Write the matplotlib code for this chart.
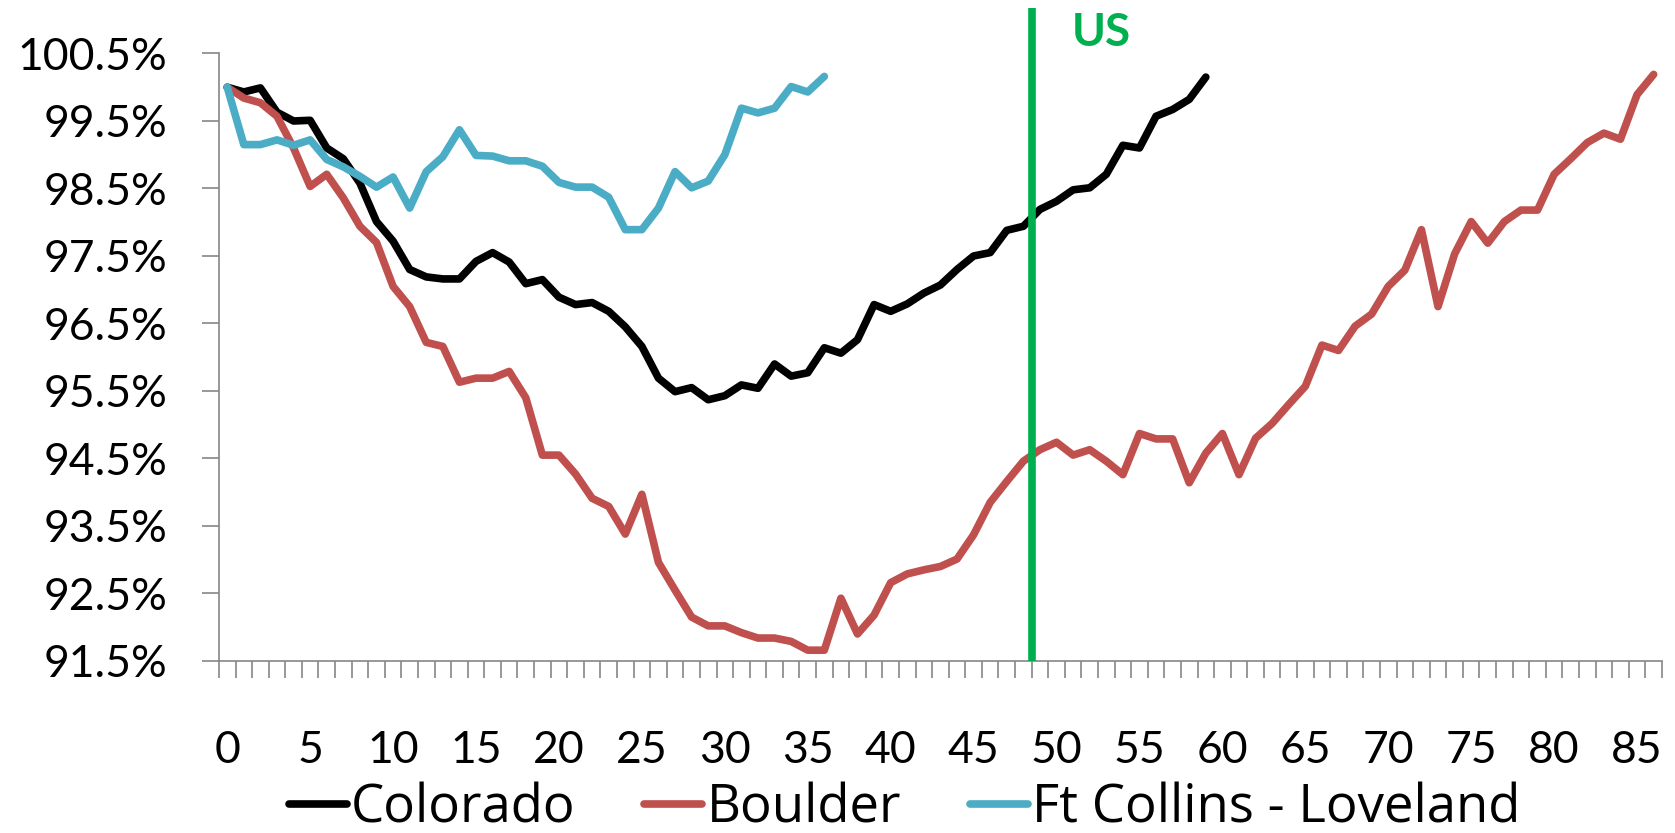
import matplotlib
matplotlib.use("Agg")
import matplotlib.pyplot as plt
from matplotlib.ticker import FixedLocator, FuncFormatter

plt.rcParams['font.family'] = ['Lato', 'DejaVu Sans']

# index values (start = 100%)
colorado = [100.0, 99.93, 99.99, 99.63, 99.50, 99.51, 99.10, 98.94, 98.58, 98.01,
            97.72, 97.30, 97.19, 97.16, 97.16, 97.42, 97.55, 97.41, 97.09, 97.15,
            96.89, 96.78, 96.81, 96.68, 96.45, 96.16, 95.69, 95.49, 95.55, 95.37,
            95.43, 95.59, 95.54, 95.90, 95.72, 95.77, 96.14, 96.06, 96.26, 96.78,
            96.68, 96.79, 96.95, 97.07, 97.30, 97.50, 97.55, 97.88, 97.94, 98.19,
            98.31, 98.48, 98.51, 98.71, 99.14, 99.10, 99.57, 99.67, 99.82, 100.15]

boulder = [100.0, 99.84, 99.77, 99.57, 99.10, 98.53, 98.71, 98.36, 97.94, 97.70,
           97.05, 96.75, 96.22, 96.16, 95.63, 95.69, 95.69, 95.79, 95.40, 94.55,
           94.55, 94.27, 93.91, 93.79, 93.38, 93.97, 92.96, 92.55, 92.15, 92.02,
           92.02, 91.92, 91.84, 91.84, 91.79, 91.66, 91.66, 92.43, 91.90, 92.18,
           92.66, 92.79, 92.85, 92.90, 93.01, 93.37, 93.85, 94.16, 94.46, 94.63,
           94.74, 94.55, 94.63, 94.46, 94.26, 94.87, 94.79, 94.79, 94.14, 94.58,
           94.87, 94.26, 94.80, 95.02, 95.30, 95.57, 96.18, 96.10, 96.46, 96.64,
           97.05, 97.29, 97.89, 96.75, 97.53, 98.01, 97.69, 98.01, 98.18, 98.18,
           98.71, 98.94, 99.18, 99.32, 99.23, 99.89, 100.19]

ft_collins = [100.0, 99.15, 99.15, 99.22, 99.14, 99.22, 98.93, 98.82, 98.68, 98.52,
              98.67, 98.21, 98.75, 98.97, 99.37, 98.99, 98.98, 98.91, 98.91, 98.83,
              98.59, 98.52, 98.52, 98.37, 97.89, 97.89, 98.21, 98.75, 98.51, 98.61,
              99.00, 99.69, 99.62, 99.69, 100.01, 99.93, 100.16]

us_mark = 48.5
y_ticks = [91.5, 92.5, 93.5, 94.5, 95.5, 96.5, 97.5, 98.5, 99.5, 100.5]
x_labels = list(range(0, 86, 5))
n_cat = len(boulder)

fig = plt.figure(figsize=(16.75, 8.33), dpi=100)
ax = fig.add_axes([0.1307, 0.2065, 0.8615, 0.7293])

lw = 5.5
ax.plot(range(len(colorado)), colorado, color='black', lw=lw,
        solid_joinstyle='round', solid_capstyle='round', label='Colorado', zorder=3)
ax.plot(range(len(boulder)), boulder, color='#C0504D', lw=lw,
        solid_joinstyle='round', solid_capstyle='round', label='Boulder', zorder=3)
ax.plot(range(len(ft_collins)), ft_collins, color='#4BACC6', lw=lw,
        solid_joinstyle='round', solid_capstyle='round', label='Ft Collins - Loveland', zorder=3)

# US reference line, pokes above the plot area
ax.plot([us_mark, us_mark], [91.5, 101.18], color='#00B050', lw=5.5,
        clip_on=False, zorder=4, solid_capstyle='butt')
ax.text(50.9, 100.81, 'US', color='#00B050', fontsize=33, fontweight='bold',
        ha='left', va='center', clip_on=False)

ax.set_xlim(-0.5, n_cat - 0.5)
ax.set_ylim(91.5, 100.5)

for s in ['top', 'right']:
    ax.spines[s].set_visible(False)
for s in ['left', 'bottom']:
    ax.spines[s].set_color('#868686')
    ax.spines[s].set_linewidth(1.2)

ax.set_yticks(y_ticks)
ax.yaxis.set_major_formatter(FuncFormatter(lambda v, p: f'{v:.1f}%'))
ax.tick_params(axis='y', length=12, width=1.2, color='#868686', labelsize=32, pad=25)

# tick marks between categories, labels on categories
ax.xaxis.set_major_locator(FixedLocator([k - 0.5 for k in range(n_cat + 1)]))
ax.xaxis.set_major_formatter(FuncFormatter(lambda v, p: ''))
ax.xaxis.set_minor_locator(FixedLocator(x_labels))
ax.xaxis.set_minor_formatter(FuncFormatter(lambda v, p: f'{int(round(v))}'))
ax.tick_params(axis='x', which='major', length=12, width=1.2, color='#868686')
ax.tick_params(axis='x', which='minor', length=0, labelsize=32, pad=50)

leg = fig.legend(loc='center', bbox_to_anchor=(0.540, 0.029), ncol=3, frameon=False,
                 prop={'family': ['Open Sans', 'DejaVu Sans'], 'size': 38},
                 handlelength=1.1, handletextpad=0.08, columnspacing=1.3,
                 borderaxespad=0, borderpad=0)

fig.savefig('out.png', dpi=100)
